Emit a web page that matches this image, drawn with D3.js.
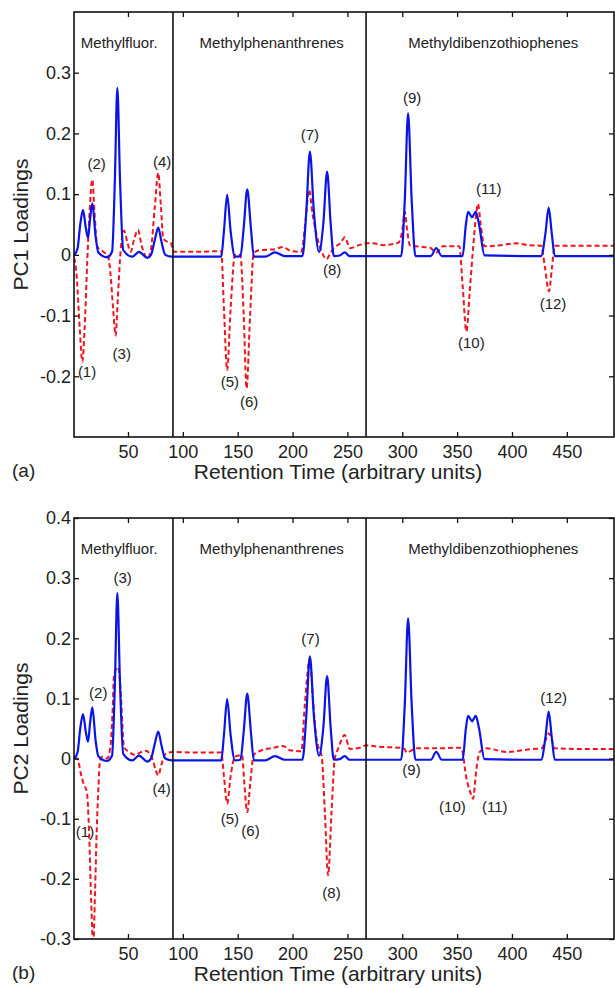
<!DOCTYPE html>
<html>
<head>
<meta charset="utf-8">
<script src="https://cdn.jsdelivr.net/npm/d3@7"></script>
<style>
  body { margin: 0; background: #fff; }
  svg { display: block; }
  text { font-family: "Liberation Sans", Arial, Helvetica, sans-serif; fill: #222; }
</style>
</head>
<body>
<div id="chart"></div>
<script>
// compound families and where the retention windows are split
const groupNames = ['Methylfluor.', 'Methylphenanthrenes', 'Methyldibenzothiophenes'];
const groupCenters = [42, 181, 383];
const separators = [91, 267];

const xTicks = [50, 100, 150, 200, 250, 300, 350, 400, 450];
const pc1YTicks = [-0.2, -0.1, 0, 0.1, 0.2, 0.3];
const pc2YTicks = [-0.3, -0.2, -0.1, 0, 0.1, 0.2, 0.3, 0.4];

// blue solid trace (same in both panels), [retention time, loading]
const blueTrace = [
  [1, 0.0], [4, 0.01], [6.5, 0.05], [9, 0.074], [11.5, 0.045], [13.6, 0.028], [15.5, 0.06], [17.5, 0.085],
  [20.5, 0.03], [23, 0.004], [31, -0.004], [35.5, 0.005], [38, 0.12], [40.3, 0.275], [42.8, 0.12],
  [45.7, 0.008], [54, -0.003], [60, 0.005], [67.6, -0.005], [71, 0.0], [74.5, 0.025], [77.6, 0.045],
  [80.5, 0.022], [84, 0.0], [90, -0.003], [135, -0.003], [137.5, 0.04], [140.4, 0.099], [143.5, 0.04],
  [147.5, -0.003], [152.5, -0.002], [155.5, 0.045], [158.7, 0.108], [162, 0.045], [164.8, -0.003],
  [175, -0.003], [184, 0.004], [193, -0.002], [209, -0.002], [212.5, 0.07], [215.8, 0.17], [219.5, 0.07],
  [224.2, 0.005], [228, 0.05], [231.5, 0.137], [234.8, 0.05], [237.6, -0.002], [243, -0.001],
  [247.6, 0.004], [252, -0.002], [299, -0.002], [302.3, 0.09], [305.3, 0.233], [308.6, 0.09],
  [312, -0.002], [326, -0.002], [331, 0.011], [336, -0.002], [355, -0.002], [358, 0.05], [360, 0.071],
  [363.6, 0.062], [367, 0.071], [370, 0.05], [375, -0.001], [426.6, -0.002], [430.5, 0.035],
  [433.4, 0.078], [436.3, 0.035], [439, -0.002], [493, -0.002]
];

// red dashed trace, panel (a)
const pc1Red = [
  [1, -0.005], [3, -0.03], [6, -0.12], [8.4, -0.176], [10.5, -0.12], [12.9, -0.01], [15, 0.07],
  [17.5, 0.124], [19.5, 0.07], [22, 0.014], [25.6, 0.008], [29, 0.003], [31.5, 0.0], [34, -0.03],
  [36.5, -0.09], [38.8, -0.133], [40.5, -0.08], [43.3, 0.007], [46.4, 0.04], [49.5, 0.02], [52.4, 0.005],
  [55.5, 0.025], [59.1, 0.041], [62.5, 0.015], [67.7, -0.006], [71, 0.01], [74.5, 0.08], [77.6, 0.135],
  [80, 0.08], [82.2, 0.027], [85.5, 0.022], [88.9, 0.02], [91.9, 0.005], [110, 0.005], [135, 0.006],
  [137.5, -0.09], [140.4, -0.19], [143.5, -0.09], [147.5, 0.0], [152.4, 0.0], [155.5, -0.1],
  [158.1, -0.22], [161.3, -0.1], [164.6, 0.003], [170.8, 0.008], [182.9, 0.009], [191.4, 0.013],
  [197.5, 0.007], [208, 0.005], [211.5, 0.05], [215.1, 0.107], [218, 0.07], [223, 0.025], [226, 0.008],
  [231, -0.007], [234.5, 0.003], [237.6, 0.011], [244, 0.02], [247.6, 0.029], [250.5, 0.018],
  [252.6, 0.011], [260.4, 0.016], [267.4, 0.019], [273.4, 0.019], [282.6, 0.016], [296.5, 0.02],
  [300, 0.04], [302.3, 0.071], [304.5, 0.04], [306.9, 0.016], [313, 0.014], [325, 0.012], [331, 0.004],
  [337, 0.014], [352, 0.014], [355, -0.05], [358.5, -0.126], [361.5, -0.06], [364.5, 0.01], [367, 0.06],
  [369, 0.084], [371.5, 0.05], [375, 0.014], [390, 0.016], [404, 0.019], [415, 0.016], [426.6, 0.015],
  [430, -0.02], [433.7, -0.06], [436.5, -0.02], [438.9, 0.015], [460, 0.015], [493, 0.015]
];

// red dashed trace, panel (b)
const pc2Red = [
  [1, 0.0], [3.8, 0.0], [7, -0.025], [9.9, -0.044], [12.5, -0.055], [14.5, -0.12], [16.5, -0.24],
  [18.3, -0.31], [20, -0.22], [21.5, -0.12], [23, -0.05], [24.5, -0.003], [26.6, 0.003], [31, 0.0],
  [34, 0.02], [36, 0.08], [37.3, 0.139], [40.9, 0.152], [43.3, 0.115], [44.8, 0.06], [46.4, 0.019],
  [50.9, 0.011], [57, 0.006], [61, 0.01], [66.1, 0.013], [72.2, 0.0], [75, -0.018], [77.6, -0.028],
  [80.5, -0.01], [84.3, 0.008], [90.4, 0.011], [110, 0.01], [135, 0.01], [137.5, -0.03], [140.4, -0.075],
  [143.5, -0.03], [147.5, 0.003], [154, 0.006], [156, -0.04], [158.7, -0.089], [161.5, -0.04],
  [164.6, 0.006], [170.7, 0.013], [182.9, 0.018], [191.4, 0.021], [197.5, 0.014], [208, 0.012],
  [211.2, 0.09], [215.8, 0.166], [218.5, 0.1], [221.9, 0.033], [225, 0.012], [226.5, 0.005],
  [229.5, -0.09], [232.4, -0.194], [235.5, -0.09], [238.5, 0.0], [241.5, 0.016], [247.6, 0.039],
  [252.1, 0.016], [261.2, 0.018], [267.4, 0.022], [276.4, 0.02], [297.6, 0.018], [302, 0.016],
  [304, 0.01], [306.9, 0.012], [313, 0.017], [331, 0.017], [352.3, 0.018], [354, 0.017], [358.5, -0.033],
  [363, -0.061], [364.5, -0.067], [367.6, -0.017], [370.6, 0.011], [376.7, 0.017], [395, 0.011],
  [419, 0.016], [427, 0.017], [430.5, 0.03], [433.7, 0.042], [436.5, 0.03], [438.9, 0.017], [460, 0.016],
  [493, 0.016]
];

// peak annotations [text, x, y]
const pc1Labels = [
  ['(1)', 12.7, -0.192], ['(2)', 21.5, 0.15], ['(3)', 44.3, -0.162], ['(4)', 81.2, 0.153],
  ['(5)', 142.9, -0.209], ['(6)', 160.5, -0.242], ['(7)', 215.8, 0.199], ['(8)', 236.1, -0.024],
  ['(9)', 309, 0.259], ['(10)', 363, -0.144], ['(11)', 378.8, 0.11], ['(12)', 437.4, -0.08]
];
const pc2Labels = [
  ['(1)', 10.8, -0.121], ['(2)', 22.9, 0.11], ['(3)', 45.2, 0.301], ['(4)', 80.7, -0.049],
  ['(5)', 142.9, -0.099], ['(6)', 161.7, -0.119], ['(7)', 216.4, 0.2], ['(8)', 235.5, -0.223],
  ['(9)', 308.4, -0.019], ['(10)', 345.7, -0.079], ['(11)', 384.3, -0.079], ['(12)', 438, 0.101]
];

const width = 615, height = 988;
const left = 74, right = 614;
const svg = d3.select('#chart').append('svg').attr('width', width).attr('height', height);

const x = d3.scaleLinear().domain([0.8, 493]).range([left, right]);
const fmt = (d) => (d === 0 ? '0' : d.toFixed(1));

const panels = [
  { id: 'a', top: 12, bottom: 437, red: pc1Red, labels: pc1Labels, yTicks: pc1YTicks, title: 'PC1 Loadings' },
  { id: 'b', top: 518, bottom: 939, red: pc2Red, labels: pc2Labels, yTicks: pc2YTicks, title: 'PC2 Loadings' },
];

panels.forEach((p) => {
  const y = d3.scaleLinear().domain([-0.3, 0.4]).range([p.bottom, p.top]);
  const g = svg.append('g');

  g.append('clipPath').attr('id', `clip-${p.id}`)
    .append('rect').attr('x', left).attr('y', p.top).attr('width', right - left).attr('height', p.bottom - p.top);

  const plot = g.append('g').attr('clip-path', `url(#clip-${p.id})`);
  const line = d3.line().x((d) => x(d[0])).y((d) => y(d[1])).curve(d3.curveMonotoneX);

  plot.append('path').datum(p.red)
    .attr('d', line).attr('fill', 'none')
    .attr('stroke', '#f0141e').attr('stroke-width', 2).attr('stroke-dasharray', '5,3');
  plot.append('path').datum(blueTrace)
    .attr('d', line).attr('fill', 'none')
    .attr('stroke', '#0a14e6').attr('stroke-width', 2.2);

  // window separators
  g.selectAll('.sep').data(separators).join('line')
    .attr('x1', (d) => x(d)).attr('x2', (d) => x(d))
    .attr('y1', p.top).attr('y2', p.bottom)
    .attr('stroke', '#111').attr('stroke-width', 1.6);

  // axes, ticks inward like the original
  g.append('g').attr('transform', `translate(0,${p.bottom})`)
    .call(d3.axisBottom(x).tickValues(xTicks).tickSizeInner(-5).tickSizeOuter(0).tickPadding(8))
    .call((a) => a.select('.domain').remove());
  g.append('g').attr('transform', `translate(0,${p.top})`)
    .call(d3.axisTop(x).tickValues(xTicks).tickSizeInner(-5).tickSizeOuter(0).tickFormat(''))
    .call((a) => a.select('.domain').remove());
  g.append('g').attr('transform', `translate(${left},0)`)
    .call(d3.axisLeft(y).tickValues(p.yTicks).tickSizeInner(-5).tickSizeOuter(0).tickPadding(3).tickFormat(fmt))
    .call((a) => a.select('.domain').remove());
  g.append('g').attr('transform', `translate(${right},0)`)
    .call(d3.axisRight(y).tickValues(p.yTicks).tickSizeInner(-5).tickSizeOuter(0).tickFormat(''))
    .call((a) => a.select('.domain').remove());
  g.selectAll('.tick line').attr('stroke', '#111').attr('stroke-width', 1.3);
  g.selectAll('.tick text').attr('font-size', 18).attr('fill', '#222')
    .style('font-family', '"Liberation Sans", Arial, sans-serif');

  g.append('rect').attr('x', left).attr('y', p.top)
    .attr('width', right - left).attr('height', p.bottom - p.top)
    .attr('fill', 'none').attr('stroke', '#111').attr('stroke-width', 1.6);

  // family names
  g.selectAll('.grp').data(groupNames).join('text')
    .attr('x', (d, i) => x(groupCenters[i])).attr('y', p.top + 36)
    .attr('text-anchor', 'middle').attr('font-size', 15).text((d) => d);

  // peak numbers
  g.selectAll('.pk').data(p.labels).join('text')
    .attr('x', (d) => x(d[1])).attr('y', (d) => y(d[2]))
    .attr('dominant-baseline', 'central').attr('text-anchor', 'middle')
    .attr('font-size', 15).text((d) => d[0]);

  g.append('text')
    .attr('transform', `translate(28,${(p.top + p.bottom) / 2}) rotate(-90)`)
    .attr('text-anchor', 'middle').attr('font-size', 21).text(p.title);
  g.append('text').attr('x', 338).attr('y', p.bottom + 42)
    .attr('text-anchor', 'middle').attr('font-size', 21).text('Retention Time (arbitrary units)');
  g.append('text').attr('x', 12).attr('y', p.bottom + 40)
    .attr('font-size', 19).text(`(${p.id})`);
});
</script>
</body>
</html>
